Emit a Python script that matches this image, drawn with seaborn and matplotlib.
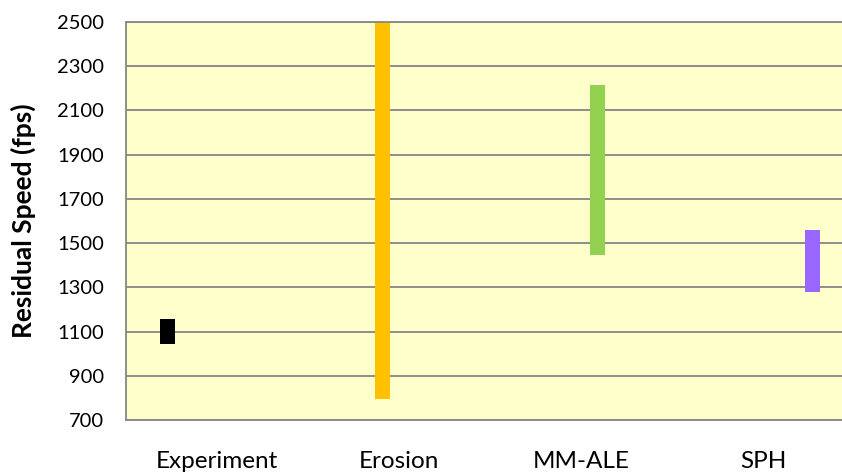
import matplotlib
matplotlib.use("Agg")
import matplotlib.pyplot as plt
import pandas as pd
import seaborn as sns

# residual speed ranges
methods = ["Experiment", "Erosion", "MM-ALE", "SPH"]
speed_low = [1045, 795, 1448, 1280]
speed_high = [1157, 2500, 2215, 1560]
bar_colors = ["#000000", "#FFC000", "#92D050", "#9966FF"]
y_ticks = list(range(700, 2501, 200))

sns.set_style("white")
plt.rcParams["font.family"] = ["Lato", "DejaVu Sans"]

df = pd.DataFrame({"method": methods, "low": speed_low, "high": speed_high})
df["span"] = df["high"] - df["low"]

fig = plt.figure(figsize=(8.42, 4.75), dpi=100)
ax = fig.add_axes([126 / 842, 1 - 420 / 475, 728 / 842, 398 / 475])
ax.set_facecolor("#FFFFCC")

# one floating bar per method, dodged like a grouped excel chart
for i, row in df.iterrows():
    sns.barplot(data=df.iloc[[i]], x="method", y="span", hue="method",
                order=methods, hue_order=methods, palette=bar_colors,
                dodge=True, width=0.73, gap=0.545, bottom=row["low"],
                errorbar=None, legend=False, saturation=1, linewidth=0, ax=ax)

grid_col = "#868686"
ax.set_xlim(-0.5, 3.5)
ax.set_ylim(700, 2500)
ax.set_yticks(y_ticks)
ax.yaxis.grid(True, color=grid_col, lw=1.3)
ax.xaxis.grid(False)
ax.set_axisbelow(True)

for side in ["left", "bottom", "top"]:
    ax.spines[side].set_color(grid_col)
    ax.spines[side].set_linewidth(1.3)
ax.spines["right"].set_visible(False)

ax.set_xticks([0.5, 1.5, 2.5], minor=True)
ax.tick_params(axis="x", which="minor", length=6, width=1.3, color=grid_col, direction="out")
ax.tick_params(axis="x", which="major", length=0, pad=22, labelsize=17.5, labelcolor="black")
ax.tick_params(axis="y", length=0, pad=16, labelsize=14.5, labelcolor="black")

ax.set_xlabel("")
ax.set_ylabel("Residual Speed (fps)", fontsize=19, fontweight="bold", color="black")
ax.yaxis.set_label_coords((36 - 126) / 728, 0.5)

fig.savefig("out.png", dpi=100)
